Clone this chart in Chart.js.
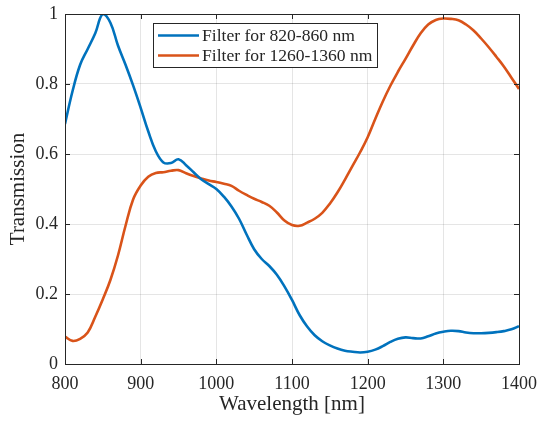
<!DOCTYPE html>
<html><head><meta charset="utf-8">
<script src="https://cdn.jsdelivr.net/npm/chart.js@4/dist/chart.umd.min.js"></script>
<style>html,body{margin:0;padding:0;background:#fff}#wrap{width:539px;height:421px}</style>
</head><body><div id="wrap"><canvas id="c" width="539" height="421"></canvas></div>
<script>
const wavelengths = [800,810,820,830,840,850,860,870,880,890,900,910,920,930,940,950,960,970,980,990,1000,1010,1020,1030,1040,1050,1060,1070,1080,1090,1100,1110,1120,1130,1140,1150,1160,1170,1180,1190,1200,1210,1220,1230,1240,1250,1260,1270,1280,1290,1300,1310,1320,1330,1340,1350,1360,1370,1380,1390,1400];
const filter820 = [0.686,0.78,0.855,0.9,0.945,1.0,0.975,0.91,0.855,0.796,0.732,0.665,0.608,0.576,0.574,0.585,0.568,0.548,0.528,0.514,0.5,0.478,0.45,0.415,0.37,0.328,0.3,0.28,0.255,0.222,0.183,0.14,0.107,0.082,0.065,0.053,0.044,0.038,0.035,0.033,0.035,0.041,0.051,0.063,0.072,0.076,0.074,0.073,0.079,0.087,0.092,0.095,0.094,0.09,0.088,0.088,0.089,0.091,0.094,0.099,0.108];
const filter1260 = [0.078,0.066,0.072,0.09,0.135,0.185,0.24,0.31,0.395,0.47,0.51,0.535,0.546,0.548,0.552,0.554,0.545,0.537,0.53,0.524,0.52,0.515,0.509,0.495,0.483,0.472,0.463,0.452,0.433,0.41,0.397,0.395,0.404,0.415,0.432,0.458,0.49,0.527,0.566,0.605,0.648,0.7,0.75,0.795,0.835,0.872,0.91,0.945,0.97,0.983,0.987,0.986,0.982,0.97,0.953,0.93,0.905,0.878,0.85,0.818,0.786];
const seriesLabels = ['Filter for 820-860 nm','Filter for 1260-1360 nm'];
const seriesColors = ['#0072BD','#D95319'];
const xTicks = [800,900,1000,1100,1200,1300,1400];
const yTicks = [0,0.2,0.4,0.6,0.8,1];

const FONT = "'Liberation Serif','Times New Roman',serif";
const AX = '#262626';

const toPts = arr => arr.map((v,i)=>({x:wavelengths[i], y:v}));

const boxPlugin = {
  id:'box',
  afterDraw(chart){
    const {ctx, chartArea:a, scales:{x,y}} = chart;
    ctx.save();
    ctx.strokeStyle = AX; ctx.lineWidth = 1;
    ctx.beginPath();
    const tl = 5;
    xTicks.forEach(v=>{const px=Math.round(x.getPixelForValue(v))+0.5;
      ctx.moveTo(px,a.bottom);ctx.lineTo(px,a.bottom-tl);
      ctx.moveTo(px,a.top);ctx.lineTo(px,a.top+tl);});
    yTicks.forEach(v=>{const py=Math.round(y.getPixelForValue(v))+0.5;
      ctx.moveTo(a.left,py);ctx.lineTo(a.left+tl,py);
      ctx.moveTo(a.right,py);ctx.lineTo(a.right-tl,py);});
    ctx.stroke();
    ctx.strokeRect(Math.round(a.left)+0.5, Math.round(a.top)+0.5, Math.round(a.right-a.left), Math.round(a.bottom-a.top));
    const lx=153.5, ly=23.5, lw=224, lh=44;
    ctx.fillStyle='#fff'; ctx.fillRect(lx,ly,lw,lh);
    ctx.strokeRect(lx,ly,lw,lh);
    ctx.font = "17.6px "+FONT; ctx.textBaseline='middle'; ctx.textAlign='left';
    seriesLabels.forEach((lab,i)=>{
      const yy = 35.5 + i*20;
      ctx.strokeStyle = seriesColors[i]; ctx.lineWidth = 2.5;
      ctx.beginPath(); ctx.moveTo(158,yy); ctx.lineTo(199,yy); ctx.stroke();
      ctx.fillStyle = AX; ctx.fillText(lab, 202, yy+1);
    });
    ctx.restore();
  }
};

new Chart(document.getElementById('c'), {
  type:'line',
  data:{datasets:[
    {label:seriesLabels[0], data:toPts(filter820), borderColor:seriesColors[0], borderWidth:2.6, pointRadius:0, tension:0.4, fill:false},
    {label:seriesLabels[1], data:toPts(filter1260), borderColor:seriesColors[1], borderWidth:2.6, pointRadius:0, tension:0.4, fill:false}
  ]},
  options:{
    responsive:false, animation:false, devicePixelRatio:1,
    layout:{padding:{top:14,right:20,left:0,bottom:0}},
    plugins:{legend:{display:false}, tooltip:{enabled:false}},
    scales:{
      x:{type:'linear', min:800, max:1400,
        afterBuildTicks(s){s.ticks = xTicks.map(v=>({value:v}));},
        afterFit(s){s.height=57; s.paddingLeft=0; s.paddingRight=0;},
        grid:{color:'rgba(0,0,0,0.1)', drawTicks:false},
        border:{display:false},
        ticks:{font:{family:FONT,size:18}, color:AX, padding:9, maxRotation:0, callback:v=>String(v)},
        title:{display:true, text:'Wavelength [nm]', font:{family:FONT,size:21}, color:AX, padding:{top:0,bottom:4}}
      },
      y:{type:'linear', min:0, max:1,
        afterBuildTicks(s){s.ticks = yTicks.map(v=>({value:v}));},
        afterFit(s){s.width=65; s.paddingTop=0; s.paddingBottom=0;},
        grid:{color:'rgba(0,0,0,0.1)', drawTicks:false},
        border:{display:false},
        ticks:{font:{family:FONT,size:18}, color:AX, padding:7, callback:v=>String(v)},
        title:{display:true, text:'Transmission', font:{family:FONT,size:21}, color:AX, padding:{top:6,bottom:0}}
      }
    }
  },
  plugins:[boxPlugin]
});
</script></body></html>
